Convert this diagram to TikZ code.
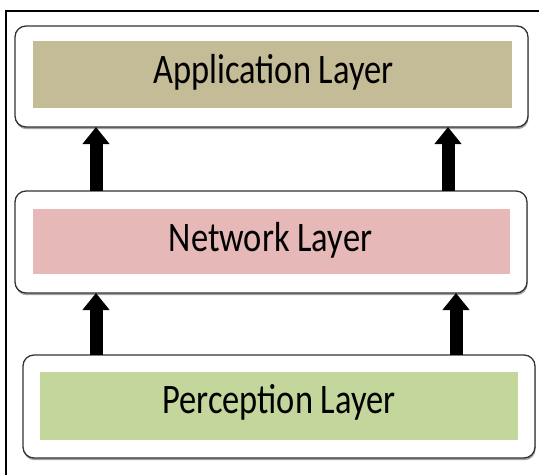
\documentclass[tikz,border=0pt]{standalone}
\usepackage{fontspec}
\setmainfont{Carlito}
\usetikzlibrary{arrows.meta,shadows}
\definecolor{apptan}{HTML}{C4BC96}
\definecolor{netpink}{HTML}{E6B9B8}
\definecolor{percgreen}{HTML}{C3D69B}
\tikzset{
  outerbox/.style={draw=black!80, line width=1.3pt, rounded corners=11pt, fill=white,
    inner sep=0pt, outer sep=0pt, anchor=center,
    drop shadow={shadow xshift=0.6pt, shadow yshift=-2.2pt, fill=black!45, opacity=0.8}},
  innerbox/.style={draw=none, inner sep=0pt, outer sep=0pt, anchor=center},
  label/.style={inner sep=0pt, anchor=base, font=\fontsize{42}{50}\selectfont},
  uparrow/.style={line width=13pt, -{Triangle[width=26pt,length=17pt]}}
}
\newcommand{\squeeze}[1]{\scalebox{0.82}[1]{#1}}
\begin{document}
\begin{tikzpicture}[x=1pt,y=-1pt]
\useasboundingbox (0,0) rectangle (539,475);
% frame (top and left)
\draw[line width=2pt] (6,475) -- (6,10.5) -- (539,10.5);
% boxes
\node[outerbox, minimum width=513pt, minimum height=101pt] (app) at (271.5,76.5) {};
\node[innerbox, fill=apptan, minimum width=479pt, minimum height=67pt] (appin) at (272.5,74.5) {};
\node[label] (apptxt) at (273.5,83) {\squeeze{Application Layer}};
\node[outerbox, minimum width=512pt, minimum height=102pt] (net) at (271,242) {};
\node[innerbox, fill=netpink, minimum width=477pt, minimum height=65pt] (netin) at (271.5,241.5) {};
\node[label] (nettxt) at (270.5,251) {\squeeze{Network Layer}};
\node[outerbox, minimum width=512pt, minimum height=103pt] (perc) at (279,406.5) {};
\node[innerbox, fill=percgreen, minimum width=478pt, minimum height=68pt] (percin) at (279,406) {};
\node[label] (perctxt) at (279,413) {\squeeze{Perception Layer}};
% arrows
\draw[uparrow] ([xshift=81pt]net.north west) -- ([xshift=81pt]app.south west);
\draw[uparrow] ([xshift=433pt]net.north west) -- ([xshift=433pt]app.south west);
\draw[uparrow] ([xshift=73pt]perc.north west) -- ([xshift=81pt]net.south west);
\draw[uparrow] ([xshift=433pt]perc.north west) -- ([xshift=441pt]net.south west);
\end{tikzpicture}
\end{document}
